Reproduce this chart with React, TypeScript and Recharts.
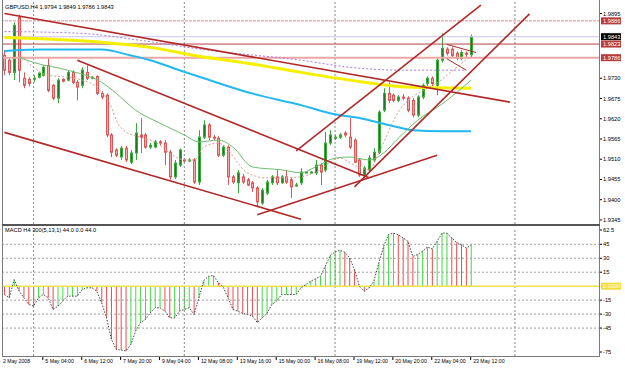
import React from "react";
import { ComposedChart, Bar, Line, XAxis, YAxis, ReferenceLine, Cell } from "recharts";

const FONT = "'Liberation Sans', Arial, sans-serif";
const SLOTS = 123; // 97 bars + empty shift on the right

const dateLabels = [
  "2 May 2008", "5 May 04:00", "6 May 12:00", "7 May 20:00", "9 May 04:00",
  "12 May 08:00", "13 May 16:00", "15 May 00:00", "16 May 08:00", "19 May 12:00",
  "20 May 20:00", "22 May 04:00", "23 May 12:00",
];

const opens = [
  1.9792, 1.9779, 1.9746, 1.9895, 1.9730, 1.9727, 1.9730, 1.9733, 1.9738, 1.9765,
  1.9711, 1.9676, 1.9727, 1.9725, 1.9746, 1.9719, 1.9711, 1.9746, 1.9733, 1.9735,
  1.9689, 1.9684, 1.9576, 1.9535, 1.9516, 1.9540, 1.9502, 1.9527, 1.9576, 1.9576,
  1.9543, 1.9543, 1.9557, 1.9554, 1.9529, 1.9462, 1.9494, 1.9508, 1.9508, 1.9508,
  1.9448, 1.9570, 1.9603, 1.9570, 1.9567, 1.9521, 1.9543, 1.9462, 1.9446, 1.9462,
  1.9454, 1.9446, 1.9432, 1.9391, 1.9418, 1.9446, 1.9462, 1.9446, 1.9462, 1.9454,
  1.9440, 1.9446, 1.9475, 1.9475, 1.9473, 1.9494, 1.9481, 1.9554, 1.9570, 1.9570,
  1.9581, 1.9570, 1.9562, 1.9508, 1.9467, 1.9481, 1.9508, 1.9529, 1.9643, 1.9689,
  1.9684, 1.9670, 1.9679, 1.9676, 1.9670, 1.9630, 1.9679, 1.9716, 1.9730, 1.9711,
  1.9779, 1.9809, 1.9809, 1.9798, 1.9784, 1.9798, 1.9794,
];
const highs = [
  1.9806, 1.9784, 1.9882, 1.9903, 1.9746, 1.9733, 1.9738, 1.9746, 1.9765, 1.9784,
  1.9714, 1.9730, 1.9730, 1.9752, 1.9752, 1.9725, 1.9760, 1.9765, 1.9735, 1.9738,
  1.9695, 1.9689, 1.9581, 1.9540, 1.9546, 1.9546, 1.9535, 1.9608, 1.9622, 1.9581,
  1.9554, 1.9562, 1.9562, 1.9562, 1.9535, 1.9508, 1.9540, 1.9513, 1.9513, 1.9513,
  1.9589, 1.9616, 1.9608, 1.9576, 1.9573, 1.9548, 1.9548, 1.9467, 1.9481, 1.9470,
  1.9459, 1.9451, 1.9437, 1.9432, 1.9454, 1.9467, 1.9481, 1.9467, 1.9481, 1.9459,
  1.9446, 1.9486, 1.9478, 1.9478, 1.9508, 1.9500, 1.9584, 1.9589, 1.9576, 1.9581,
  1.9586, 1.9622, 1.9567, 1.9513, 1.9492, 1.9521, 1.9540, 1.9643, 1.9703, 1.9719,
  1.9689, 1.9684, 1.9687, 1.9681, 1.9676, 1.9684, 1.9716, 1.9735, 1.9735, 1.9784,
  1.9852, 1.9814, 1.9814, 1.9803, 1.9806, 1.9803, 1.9849,
];
const lows = [
  1.9738, 1.9738, 1.9725, 1.9719, 1.9703, 1.9708, 1.9719, 1.9730, 1.9735, 1.9692,
  1.9670, 1.9662, 1.9719, 1.9722, 1.9714, 1.9670, 1.9703, 1.9725, 1.9727, 1.9684,
  1.9673, 1.9570, 1.9516, 1.9516, 1.9508, 1.9502, 1.9497, 1.9508, 1.9527, 1.9538,
  1.9538, 1.9540, 1.9548, 1.9494, 1.9454, 1.9456, 1.9489, 1.9502, 1.9502, 1.9443,
  1.9440, 1.9565, 1.9562, 1.9562, 1.9516, 1.9516, 1.9440, 1.9443, 1.9418, 1.9443,
  1.9437, 1.9421, 1.9380, 1.9386, 1.9413, 1.9440, 1.9440, 1.9443, 1.9443, 1.9405,
  1.9435, 1.9440, 1.9473, 1.9473, 1.9467, 1.9440, 1.9475, 1.9548, 1.9562, 1.9565,
  1.9570, 1.9538, 1.9500, 1.9462, 1.9462, 1.9475, 1.9502, 1.9524, 1.9638, 1.9662,
  1.9665, 1.9665, 1.9670, 1.9638, 1.9624, 1.9624, 1.9673, 1.9708, 1.9708, 1.9684,
  1.9773, 1.9792, 1.9787, 1.9779, 1.9779, 1.9784, 1.9786,
];
const closes = [
  1.9752, 1.9746, 1.9874, 1.9752, 1.9711, 1.9716, 1.9730, 1.9744, 1.9760, 1.9697,
  1.9676, 1.9725, 1.9722, 1.9746, 1.9719, 1.9706, 1.9752, 1.9730, 1.9733, 1.9689,
  1.9679, 1.9576, 1.9529, 1.9521, 1.9540, 1.9508, 1.9527, 1.9581, 1.9570, 1.9543,
  1.9548, 1.9557, 1.9554, 1.9529, 1.9462, 1.9500, 1.9535, 1.9505, 1.9508, 1.9448,
  1.9570, 1.9603, 1.9570, 1.9567, 1.9521, 1.9543, 1.9462, 1.9448, 1.9473, 1.9448,
  1.9440, 1.9432, 1.9394, 1.9426, 1.9448, 1.9462, 1.9446, 1.9462, 1.9448, 1.9435,
  1.9440, 1.9475, 1.9475, 1.9475, 1.9494, 1.9475, 1.9554, 1.9576, 1.9570, 1.9576,
  1.9576, 1.9543, 1.9502, 1.9467, 1.9486, 1.9513, 1.9529, 1.9638, 1.9689, 1.9670,
  1.9670, 1.9679, 1.9676, 1.9643, 1.9630, 1.9679, 1.9711, 1.9730, 1.9716, 1.9779,
  1.9811, 1.9798, 1.9792, 1.9784, 1.9800, 1.9795, 1.9843,
];

const macdValues = [
  -9, -12.5, 7, -5, -12.5, -19.6, -21.4, -12.5, -8.9, -12.5,
  -25, -21.4, -16, -10.7, -10.7, -10.7, -3.6, -1.8, -1.8, -5.4,
  -17.9, -34, -57, -68, -68.6, -69.6, -62.5, -48, -39, -35.7,
  -28.6, -23.2, -23.2, -26.8, -34, -34, -26.8, -25, -23.2, -30.4,
  -12.5, 6, 10.7, 11.4, 3.6, -1, -12.5, -25, -26.8, -29.3,
  -30.4, -32, -39, -34, -29.3, -19.6, -16, -8.9, -8.9, -8.9,
  -8.9, -1.8, 1.8, 5.4, 7.9, 10.7, 21.4, 32.9, 36.8, 38.6,
  36.4, 30.4, 17.9, 0, -5.4, -1.8, 5.4, 25, 42.9, 55.4,
  57, 55.4, 51.8, 48.2, 32, 34, 37.5, 42, 40, 48.2,
  57, 57, 51.8, 47, 44.6, 41, 44,
];

// moving averages, read at a few bars each: [bar, price]
const yellowMa: [number, number][] = [
  [0, 1.9841], [20, 1.9828], [30, 1.9814], [40, 1.9790], [50, 1.9771],
  [61, 1.9746], [71, 1.9725], [83, 1.9706], [96, 1.9703],
];
const cyanMa: [number, number][] = [
  [0, 1.9804], [8, 1.9808], [20, 1.9808], [26, 1.9792], [30, 1.9779], [36, 1.9752],
  [41, 1.9730], [50, 1.9692], [61, 1.9657], [68, 1.9632], [73, 1.9622], [79, 1.9603],
  [84, 1.9589], [90, 1.9586], [96, 1.9586],
];
const greenMa: [number, number][] = [
  [3, 1.9787], [6, 1.9773], [13, 1.9752], [20, 1.9719], [23, 1.9689], [27, 1.9643],
  [32, 1.9608], [37, 1.9576], [40, 1.9557], [44, 1.9562], [47, 1.9543], [51, 1.9489],
  [57, 1.9481], [61, 1.9473], [64, 1.9489], [68, 1.9513], [71, 1.9516], [75, 1.9508],
  [78, 1.9527], [81, 1.9567], [85, 1.9616], [90, 1.9660], [96, 1.9725],
];
const dashedMa: [number, number][] = [
  [4, 1.9784], [6, 1.9760], [9, 1.9738], [13, 1.9733], [16, 1.9725], [19, 1.9706],
  [22, 1.9651], [23, 1.9616], [25, 1.9584], [28, 1.9570], [31, 1.9557], [34, 1.9527],
  [37, 1.9508], [39, 1.9508], [41, 1.9543], [44, 1.9554], [50, 1.9473], [54, 1.9459],
  [61, 1.9462], [64, 1.9475], [69, 1.9513], [72, 1.9494], [75, 1.9481], [77, 1.9527],
  [81, 1.9638], [90, 1.9727], [96, 1.9792],
];
const purpleLine: [number, number][] = [
  [0, 1.9857], [16, 1.9852], [28, 1.9833], [42, 1.9806], [61, 1.9779],
  [71, 1.9760], [82, 1.9752], [95, 1.9752],
];

// drawn trend lines: [bar1, price1, bar2, price2]
const trendLines: [number, number, number, number][] = [
  [0, 1.9906, 104, 1.9665],
  [15, 1.9779, 75, 1.946],
  [0, 1.9583, 61, 1.9347],
  [52, 1.9359, 89, 1.9521],
  [72, 1.9435, 108, 1.9905],
  [60, 1.9533, 98, 1.9929],
];
const pennantLines: [number, number, number, number][] = [
  [91, 1.9822, 97, 1.98],
  [91, 1.9783, 95, 1.9752],
];

const priceTicks = [1.9895, 1.973, 1.9675, 1.962, 1.9565, 1.951, 1.9455, 1.94, 1.9345];
const macdTicks = [62.5, 45, 30, 15, 0, -15, -30, -45, -75];
const macdLevels = [45, 30, 15, -15, -30, -45];
const gridBars = [6, 37, 68, 105];
const dateTickBars = dateLabels.map((_, k) => k * 8);

const rows: any[] = Array.from({ length: SLOTS }, (_, i) => ({
  i,
  open: opens[i],
  high: highs[i],
  low: lows[i],
  close: closes[i],
  macd: macdValues[i],
}));
const put = (key: string, pts: [number, number][]) => pts.forEach(([i, v]) => (rows[i][key] = v));
put("yellow", yellowMa);
put("cyan", cyanMa);
put("green", greenMa);
put("dashed", dashedMa);
put("purple", purpleLine);

function Candle(props: any) {
  const { x, y, width, height, payload } = props;
  if (!payload || payload.open == null) return null;
  const { open, high, low, close } = payload;
  const top = Math.min(y, y + height);
  const h = Math.abs(height);
  const k = high > low ? h / (high - low) : 0;
  const yOpen = top + (high - open) * k;
  const yClose = top + (high - close) * k;
  const c = Math.round(x + width / 2);
  const up = close >= open;
  const edge = up ? "#38a838" : "#e05656";
  const fill = up ? "#1e7a1e" : "#f6aaaa";
  return (
    <g>
      <line x1={c + 0.5} x2={c + 0.5} y1={top} y2={top + h} stroke={edge} />
      <rect
        x={c - 0.5}
        y={Math.min(yOpen, yClose)}
        width={2}
        height={Math.max(Math.abs(yClose - yOpen), 1)}
        fill={fill}
        stroke={edge}
      />
    </g>
  );
}

function PriceTick({ x, y, payload }: any) {
  // the top label sits just above the 1.9886 box, as in the terminal
  const ty = payload.value > 1.989 ? y - 4 : y;
  return (
    <g>
      <line x1={x} x2={x + 2} y1={ty} y2={ty} stroke="#000" />
      <text x={x + 3} y={ty + 2} fontSize={5.7} fontFamily={FONT} fill="#000">
        {Number(payload.value).toFixed(4)}
      </text>
    </g>
  );
}

function MacdTick({ x, y, payload }: any) {
  const v = payload.value;
  if (v === 0) {
    return (
      <g>
        <rect x={x + 1} y={y - 3.5} width={20} height={7} fill="#f0dc3c" />
        <text x={x + 3} y={y + 2} fontSize={5.7} fontFamily={FONT} fill="#fff">0.0000</text>
      </g>
    );
  }
  const ty = v === -75 ? y - 4 : v === 62.5 ? y + 2 : y;
  return (
    <g>
      <line x1={x} x2={x + 2} y1={ty} y2={ty} stroke="#000" />
      <text x={x + 3} y={ty + 2} fontSize={5.7} fontFamily={FONT} fill="#000">{String(v)}</text>
    </g>
  );
}

function DateTick({ x, y, payload }: any) {
  const label = dateLabels[payload.value / 8];
  if (!label) return null;
  const tx = payload.value === 0 ? 3 : x + 2;
  return (
    <g>
      {payload.value !== 0 && <line x1={x - 0.5} x2={x - 0.5} y1={y} y2={y + 4} stroke="#000" />}
      <text x={tx} y={y + 7} fontSize={5.2} fontFamily={FONT} fill="#000">{label}</text>
    </g>
  );
}

const boxLabel = (text: string, bg: string) => (props: any) => {
  const vb = props.viewBox || {};
  const rx = (vb.x || 0) + (vb.width || 0) + 1;
  const y = vb.y || 0;
  return (
    <g>
      <rect x={rx} y={y - 3.5} width={20} height={7} fill={bg} />
      <text x={rx + 2} y={y + 2} fontSize={5.7} fontFamily={FONT} fill="#fff">{text}</text>
    </g>
  );
};

const macdColor = (i: number) =>
  i > 0 && macdValues[i] >= macdValues[i - 1] ? "#3fdc3f" : "#ee4a4a";

export default function App() {
  return (
    <div style={{ position: "absolute", left: 0, top: 0, width: 625, height: 369, background: "#fff", overflow: "hidden" }}>
      <div style={{ position: "absolute", left: 0, top: 0 }}>
        <ComposedChart width={625} height={226} data={rows} margin={{ top: 1, right: 0, bottom: 2, left: 2 }}>
          <XAxis dataKey="i" type="category" hide />
          <YAxis
            orientation="right"
            width={25}
            domain={[1.9334, 1.994]}
            allowDataOverflow
            ticks={priceTicks}
            interval={0}
            axisLine={false}
            tickLine={false}
            tickSize={0}
            tickMargin={0}
            tick={<PriceTick />}
          />
          {gridBars.map((b) => (
            <ReferenceLine key={b} x={b} stroke="#8a8a8a" strokeDasharray="2 2" />
          ))}
          <ReferenceLine y={1.9886} stroke="#e38a8a" strokeDasharray="3 1" label={boxLabel("1.9886", "#b83a3a")} />
          <ReferenceLine y={1.9843} stroke="#cfc6f2" label={boxLabel("1.9843", "#000")} />
          <ReferenceLine y={1.9823} stroke="#b54545" label={boxLabel("1.9823", "#b83a3a")} />
          <ReferenceLine y={1.9786} stroke="#eba6a6" strokeWidth={2} label={boxLabel("1.9786", "#b83a3a")} />

          <Bar
            dataKey={(d: any) => (d.open == null ? null : [d.low, d.high])}
            shape={<Candle />}
            isAnimationActive={false}
          />
          <Line dataKey="purple" type="monotone" stroke="#a77ae6" strokeDasharray="2 2" dot={false} connectNulls isAnimationActive={false} />
          <Line dataKey="yellow" type="monotone" stroke="#f5f000" strokeWidth={3} dot={false} connectNulls isAnimationActive={false} />
          <Line dataKey="cyan" type="monotone" stroke="#22b8f0" strokeWidth={2} dot={false} connectNulls isAnimationActive={false} />
          <Line dataKey="green" type="monotone" stroke="#6cbd6c" strokeWidth={1} dot={false} connectNulls isAnimationActive={false} />
          <Line dataKey="dashed" type="monotone" stroke="#dc9c8c" strokeDasharray="2 2" dot={false} connectNulls isAnimationActive={false} />

          {trendLines.map(([a, p, b, q], k) => (
            <ReferenceLine key={"t" + k} segment={[{ x: a, y: p }, { x: b, y: q }]} stroke="#b02828" strokeWidth={1.6} />
          ))}
          {pennantLines.map(([a, p, b, q], k) => (
            <ReferenceLine key={"p" + k} segment={[{ x: a, y: p }, { x: b, y: q }]} stroke="#b02828" strokeWidth={1} />
          ))}
        </ComposedChart>
      </div>

      <div style={{ position: "absolute", left: 0, top: 226 }}>
        <ComposedChart width={625} height={143} data={rows} margin={{ top: 2, right: 0, bottom: 0, left: 2 }}>
          <XAxis
            dataKey="i"
            type="category"
            ticks={dateTickBars}
            interval={0}
            height={13}
            axisLine={false}
            tickLine={false}
            tickSize={0}
            tickMargin={0}
            tick={<DateTick />}
          />
          <YAxis
            orientation="right"
            width={25}
            domain={[-75, 62.5]}
            allowDataOverflow
            ticks={macdTicks}
            interval={0}
            axisLine={false}
            tickLine={false}
            tickSize={0}
            tickMargin={0}
            tick={<MacdTick />}
          />
          {macdLevels.map((v) => (
            <ReferenceLine key={v} y={v} stroke="#a0a0a0" strokeDasharray="2 2" />
          ))}
          {gridBars.map((b) => (
            <ReferenceLine key={"g" + b} x={b} stroke="#8a8a8a" strokeDasharray="2 2" />
          ))}
          <ReferenceLine y={0} stroke="#f2e24a" strokeWidth={1.5} />
          <Bar dataKey="macd" barSize={1} isAnimationActive={false}>
            {rows.map((r, i) => (
              <Cell key={i} fill={macdColor(i)} />
            ))}
          </Bar>
          <Line dataKey="macd" type="linear" stroke="#444" strokeDasharray="1.5 1.5" dot={false} isAnimationActive={false} />
        </ComposedChart>
      </div>

      <svg width={625} height={369} style={{ position: "absolute", left: 0, top: 0, pointerEvents: "none" }}>
        <line x1={2.5} x2={2.5} y1={0} y2={356} stroke="#7a7a7a" />
        <line x1={599.5} x2={599.5} y1={0} y2={356} stroke="#7a7a7a" />
        <line x1={2} x2={600} y1={225} y2={225} stroke="#555" strokeWidth={2} />
        <line x1={2} x2={600} y1={356.5} y2={356.5} stroke="#7a7a7a" />
        <text x={5} y={9} fontSize={5.7} fontFamily={FONT} fill="#000">
          GBPUSD,H4 1.9794 1.9849 1.9786 1.9843
        </text>
        <text x={5} y={232} fontSize={5.7} fontFamily={FONT} fill="#000">
          MACD H4 300(5,13,1) 44.0 0.0 44.0
        </text>
      </svg>
    </div>
  );
}
